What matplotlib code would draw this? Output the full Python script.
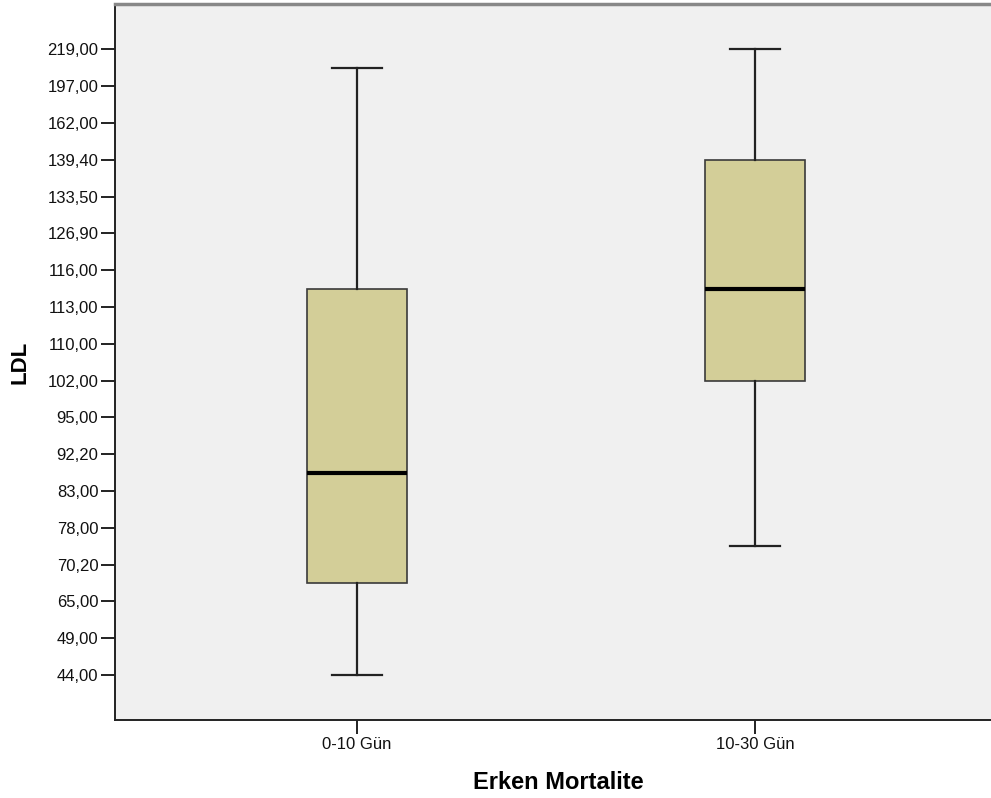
import matplotlib
matplotlib.use("Agg")
import matplotlib.pyplot as plt

plt.rcParams['font.family'] = ['Liberation Sans', 'DejaVu Sans']

groups = ["0-10 Gün", "10-30 Gün"]
# SPSS drew the LDL axis as ordinal: every tick is one step
y_labels = ["44,00", "49,00", "65,00", "70,20", "78,00", "83,00", "92,20",
            "95,00", "102,00", "110,00", "113,00", "116,00", "126,90",
            "133,50", "139,40", "162,00", "197,00", "219,00"]
# box stats in tick steps (0 = 44,00)
whislo = [0.0, 3.5]
q1 = [2.5, 8.0]
med = [5.5, 10.5]
q3 = [10.5, 14.0]
whishi = [16.5, 17.0]

stats = []
for i in range(len(groups)):
    stats.append(dict(label=groups[i], whislo=whislo[i], q1=q1[i], med=med[i],
                      q3=q3[i], whishi=whishi[i], fliers=[]))

fig = plt.figure(figsize=(9.91, 7.98), dpi=100)
ax = fig.add_axes([115 / 991, 78 / 798, 886 / 991, 716 / 798])
ax.set_facecolor("#f0f0f0")

ax.bxp(stats, positions=[1, 2], widths=0.25, patch_artist=True,
       boxprops=dict(facecolor="#d3ce98", edgecolor="#3a3a3a", linewidth=1.2),
       medianprops=dict(color="black", linewidth=3),
       whiskerprops=dict(color="#222222", linewidth=1.6),
       capprops=dict(color="#222222", linewidth=1.6),
       capwidths=0.125)

ax.set_xlim(1 - 242 / 398, 2 + 246 / 398)
ax.set_ylim(-1.22, 18.23)
ax.set_yticks(range(len(y_labels)))
ax.set_yticklabels(y_labels)
ax.set_xticks([1, 2])
ax.set_xticklabels(groups)

ax.tick_params(axis="both", labelsize=12, length=10, width=1.4, color="#222222",
               labelcolor="#111111", pad=2)
for s in ["left", "bottom"]:
    ax.spines[s].set_color("#222222")
    ax.spines[s].set_linewidth(1.4)
ax.spines["top"].set_color("#888888")
ax.spines["top"].set_linewidth(2.5)
ax.spines["right"].set_visible(False)

ax.set_ylabel("LDL", fontsize=16, fontweight="bold", labelpad=12)
ax.set_xlabel("Erken Mortalite", fontsize=17, fontweight="bold", labelpad=14)

fig.savefig("out.png", dpi=100)
